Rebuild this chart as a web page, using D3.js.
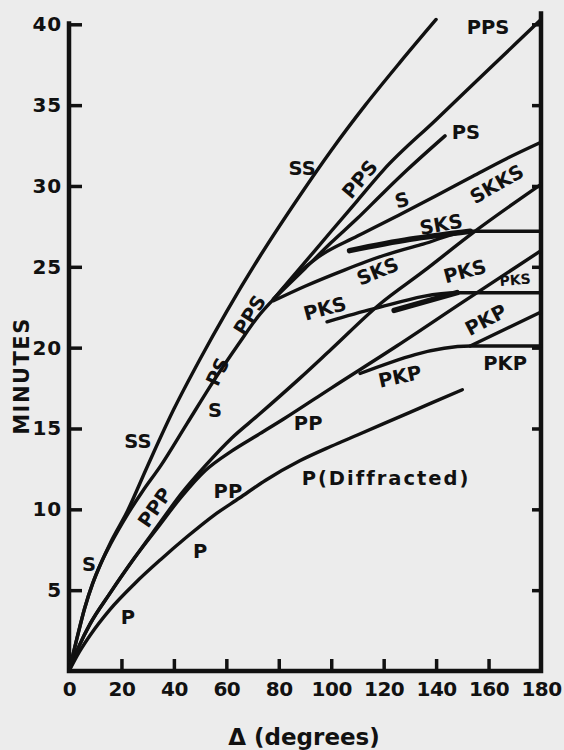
<!DOCTYPE html>
<html>
<head>
<meta charset="utf-8">
<script src="https://cdn.jsdelivr.net/npm/d3@7"></script>
<style>
    body { margin: 0; background: #ececec; }
    svg text { font-family: "DejaVu Sans", sans-serif; font-weight: bold; fill: #111; }
</style>
</head>
<body>
<svg id="chart" width="564" height="750"></svg>
<script>
(function () {
    'use strict';

    // travel time curves: [distance in degrees, minutes]
    var P   = [[0,0],[4,1.2],[8,2.2],[15.6,3.8],[25,5.4],[35,6.9],[45,8.3],[55,9.6],[65,10.7],[75,11.8],[88,13.0],[100,13.9],[110,14.6],[130,16.0],[150,17.4]];
    var PP  = [[0,0],[4,1.6],[8,2.9],[15.6,4.8],[25,7.0],[33.5,8.8],[43,10.8],[52,12.4],[62,13.6],[72,14.6],[82,15.6],[100,17.5],[125,20.1],[150,22.8],[180,26.0]];
    var PPP = [[0,0],[4,1.6],[8,2.9],[15.6,4.8],[25,7.0],[33.5,8.9],[43,11.0],[52,12.7],[62,14.4],[72,15.8],[88,18.1],[100,19.9],[118.6,22.7],[135,24.7],[154,27.1],[180,30.1]];
    var S   = [[0,0],[3,2.0],[6,3.9],[9,5.4],[12,6.6],[16,7.9],[22,9.6],[28,11.1],[35,12.7],[45,15.3],[55,17.9],[65,20.3],[72,21.9],[78,23.0],[86,24.4],[95,25.6],[110,26.9],[127,28.3],[140,29.4],[154,30.6],[167,31.7],[180,32.7]];
    var SS  = [[0,0],[3,2.0],[6,3.9],[9,5.4],[12,6.6],[16,8.0],[22,9.8],[30,12.7],[40,16.2],[50,19.3],[60,22.2],[73,25.7],[88,29.4],[100,32.2],[113,35.0],[126,37.6],[140,40.3]];
    var PS  = [[78,23.0],[90,24.9],[100,26.5],[110,28.0],[120,29.6],[129,31.0],[143.4,33.1]];
    var PPS = [[78,23.0],[88,24.9],[100,27.2],[110,29.1],[120,31.0],[140,34.1],[160,37.2],[180,40.3]];
    var SKS = [[78,22.9],[90,23.8],[105,24.8],[120,25.7],[135,26.4],[153,27.2],[180,27.2]];
    var SKSb = [[107,26.0],[130,26.7],[153,27.2]];
    var PKS = [[98.4,21.6],[116,22.4],[148,23.4],[180,23.4]];
    var PKSb = [[124,22.3],[148,23.4]];
    var PKP = [[111,18.4],[153,20.1],[180,20.1]];
    var PKPb = [[153,20.1],[180,22.2]];

    var thinCurves = [P, PP, PPP, S, SS, PS, PPS, SKS, PKS, PKP, PKPb];
    var thickCurves = [SKSb, PKSb];

    var xTicks = [0, 20, 40, 60, 80, 100, 120, 140, 160, 180];
    var yTicks = [5, 10, 15, 20, 25, 30, 35, 40];

    var curveLabels = [
        {text: 'PPS', d: 159.8, t: 39.8, rot: 0},
        {text: 'SS', d: 88.9, t: 31.1, rot: 0},
        {text: 'PS', d: 151.4, t: 33.3, rot: 0},
        {text: 'PPS', d: 111.0, t: 30.4, rot: -50},
        {text: 'S', d: 127.0, t: 29.1, rot: -15},
        {text: 'SKKS', d: 163.2, t: 30.1, rot: -30},
        {text: 'SKS', d: 141.9, t: 27.6, rot: -10},
        {text: 'SKS', d: 117.8, t: 24.7, rot: -22},
        {text: 'PKS', d: 97.6, t: 22.4, rot: -15},
        {text: 'PKS', d: 151.0, t: 24.7, rot: -15},
        {text: 'PKS', d: 170.1, t: 24.2, rot: -5, small: true},
        {text: 'PKP', d: 159.0, t: 21.7, rot: -28},
        {text: 'PKP', d: 166.3, t: 19.0, rot: 0},
        {text: 'PKP', d: 126.2, t: 18.2, rot: -12},
        {text: 'PP', d: 91.2, t: 15.3, rot: 0},
        {text: 'P(Diffracted)', d: 120.9, t: 11.9, rot: 0, wide: true},
        {text: 'SS', d: 26.3, t: 14.2, rot: 0},
        {text: 'PPS', d: 69.0, t: 22.0, rot: -58},
        {text: 'PS', d: 56.8, t: 18.5, rot: -65},
        {text: 'S', d: 55.7, t: 16.1, rot: 0},
        {text: 'PPP', d: 32.8, t: 10.1, rot: -55},
        {text: 'PP', d: 60.6, t: 11.1, rot: 0},
        {text: 'P', d: 50.0, t: 7.4, rot: 0},
        {text: 'P', d: 22.5, t: 3.3, rot: 0},
        {text: 'S', d: 7.6, t: 6.6, rot: 0}
    ];

    var svg = d3.select('#chart');

    var x = d3.scaleLinear().domain([0, 180]).range([69, 541]),
        y = d3.scaleLinear().domain([0, 40]).range([671, 24.3]);

    var line = d3.line()
        .x(function (d) { return x(d[0]); })
        .y(function (d) { return y(d[1]); })
        .curve(d3.curveMonotoneX);

    // axes, ticks pointing inward
    var left = svg.append('g')
        .attr('transform', 'translate(' + x(0) + ',0)')
        .call(d3.axisLeft(y).tickValues(yTicks).tickSizeInner(-13).tickSizeOuter(0).tickPadding(7));

    var bottom = svg.append('g')
        .attr('transform', 'translate(0,' + y(0) + ')')
        .call(d3.axisBottom(x).tickValues(xTicks).tickSizeInner(-12).tickSizeOuter(0).tickPadding(11));

    var right = svg.append('g')
        .attr('transform', 'translate(' + x(180) + ',0)')
        .call(d3.axisRight(y).tickValues(yTicks).tickSizeInner(-9).tickSizeOuter(0).tickFormat(''));

    [left, bottom, right].forEach(function (g) {
        g.select('.domain').remove();
        g.selectAll('.tick line').attr('stroke', '#111').attr('stroke-width', 3.5);
        g.selectAll('.tick text')
            .attr('font-size', 20)
            .attr('letter-spacing', 0.8)
            .attr('font-family', '"DejaVu Sans", sans-serif')
            .attr('font-weight', 'bold')
            .attr('fill', '#111');
    });
    bottom.selectAll('.tick line').filter(function (d) { return d === 0 || d === 180; }).remove();
    bottom.selectAll('.tick text').attr('font-size', 20).attr('letter-spacing', -0.5);

    svg.append('path')
        .attr('d', 'M' + x(0) + ',' + (y(40) - 3) + 'V' + y(0) + 'H' + x(180) + 'V' + (y(40) - 13))
        .attr('fill', 'none')
        .attr('stroke', '#111')
        .attr('stroke-width', 4.5);

    svg.selectAll('path.curve')
        .data(thinCurves)
        .enter()
        .append('path')
        .attr('class', 'curve')
        .attr('d', line)
        .attr('fill', 'none')
        .attr('stroke', '#111')
        .attr('stroke-width', 3.4)
        .attr('stroke-linecap', 'round');

    svg.selectAll('path.thick')
        .data(thickCurves)
        .enter()
        .append('path')
        .attr('class', 'thick')
        .attr('d', line)
        .attr('fill', 'none')
        .attr('stroke', '#111')
        .attr('stroke-width', 5.5)
        .attr('stroke-linecap', 'round');

    svg.selectAll('text.lbl')
        .data(curveLabels)
        .enter()
        .append('text')
        .attr('class', 'lbl')
        .attr('text-anchor', 'middle')
        .attr('dominant-baseline', 'central')
        .attr('font-size', function (d) { return d.small ? 14 : 19.5; })
        .attr('letter-spacing', function (d) { return d.wide ? 2 : 0; })
        .attr('transform', function (d) {
            return 'translate(' + x(d.d) + ',' + y(d.t) + ') rotate(' + d.rot + ')';
        })
        .text(function (d) { return d.text; });

    svg.append('text')
        .attr('text-anchor', 'middle')
        .attr('font-size', 21)
        .attr('letter-spacing', 1.5)
        .attr('transform', 'translate(29,' + 376 + ') rotate(-90)')
        .text('MINUTES');

    svg.append('text')
        .attr('text-anchor', 'middle')
        .attr('font-size', 23)
        .attr('x', 304)
        .attr('y', 745)
        .text('\u0394 (degrees)');
}());
</script>
</body>
</html>
